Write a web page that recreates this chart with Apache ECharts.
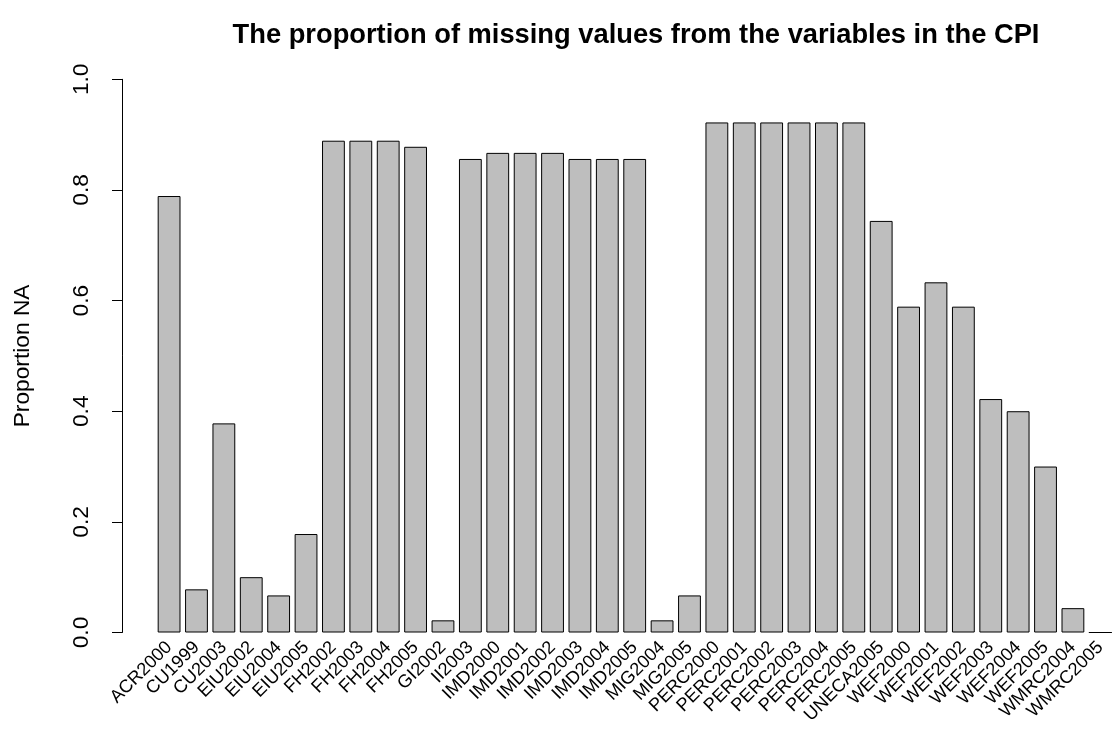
<!DOCTYPE html>
<html>
<head>
<meta charset="utf-8">
<title>Proportion NA</title>
<script src="https://cdn.jsdelivr.net/npm/echarts@6/dist/echarts.min.js"></script>
<style>
	html, body { margin: 0; padding: 0; background: #fff; }
	#container_bar { width: 1114px; height: 736px; }
</style>
</head>
<body>
<div id="container_bar"></div>
<script>
//variable names (x axis)
var categories = ["ACR2000", "CU1999", "CU2003", "EIU2002", "EIU2004", "EIU2005",
	"FH2002", "FH2003", "FH2004", "FH2005", "GI2002", "II2003",
	"IMD2000", "IMD2001", "IMD2002", "IMD2003", "IMD2004", "IMD2005",
	"MIG2004", "MIG2005", "PERC2000", "PERC2001", "PERC2002", "PERC2003",
	"PERC2004", "PERC2005", "UNECA2005", "WEF2000", "WEF2001", "WEF2002",
	"WEF2003", "WEF2004", "WEF2005", "WMRC2004", "WMRC2005"];
//proportion of missing values per variable
var naProportion = [0.789, 0.078, 0.378, 0.100, 0.067, 0.178,
	0.889, 0.889, 0.889, 0.878, 0.022, 0.856,
	0.867, 0.867, 0.867, 0.856, 0.856, 0.856,
	0.022, 0.067, 0.922, 0.922, 0.922, 0.922,
	0.922, 0.922, 0.744, 0.589, 0.633, 0.589,
	0.422, 0.400, 0.300, 0.044, 0];
//y axis ticks
var yTicks = [0, 0.2, 0.4, 0.6, 0.8, 1.0];

var fontName = "'Liberation Sans', Arial, Helvetica, sans-serif";

initChart_bar("container_bar");

/**
 * barplot of NA proportions
 * @param selector
 */
function initChart_bar(selector) {
	var dom = document.getElementById(selector);
	var myChart = echarts.init(dom, null, {renderer: 'canvas'});

	var option = {
		animation: false,
		backgroundColor: '#ffffff',
		textStyle: { fontFamily: fontName },
		title: {
			text: 'The proportion of missing values from the variables in the CPI',
			left: 631,
			top: 17,
			textAlign: 'center',
			textStyle: {
				fontFamily: fontName,
				fontSize: 27.3,
				fontWeight: 'bold',
				color: '#000'
			}
		},
		grid: {
			left: 155.4,
			right: -3.6,
			top: 79.3,
			bottom: 103.5,
			containLabel: false
		},
		xAxis: {
			type: 'category',
			data: categories,
			axisLine: { show: false },
			axisTick: { show: false },
			axisLabel: {
				interval: 0,
				rotate: 45,
				margin: 12,
				fontSize: 18.2,
				color: '#000',
				fontFamily: fontName
			}
		},
		yAxis: {
			type: 'value',
			min: yTicks[0],
			max: yTicks[yTicks.length - 1],
			interval: 0.2,
			offset: 33.4,
			name: 'Proportion NA',
			nameLocation: 'middle',
			nameRotate: 90,
			nameGap: 88,
			nameTextStyle: {
				fontSize: 22.75,
				color: '#000',
				fontFamily: fontName
			},
			splitLine: { show: false },
			axisLine: {
				show: true,
				lineStyle: { color: '#000', width: 1 }
			},
			axisTick: {
				show: true,
				inside: false,
				length: 10,
				lineStyle: { color: '#000', width: 1 }
			},
			axisLabel: {
				rotate: 90,
				margin: 29,
				fontSize: 22.75,
				color: '#000',
				fontFamily: fontName,
				formatter: function(v) {
					return v.toFixed(1);
				}
			}
		},
		series: [
			{
				name: 'Proportion NA',
				type: 'bar',
				data: naProportion,
				barCategoryGap: '16.7%',
				itemStyle: {
					color: '#bebebe',
					borderColor: '#000',
					borderWidth: 1
				}
			}
		]
	};
	if (option && typeof option === "object") {
		myChart.setOption(option, true);
	}
}
</script>
</body>
</html>
